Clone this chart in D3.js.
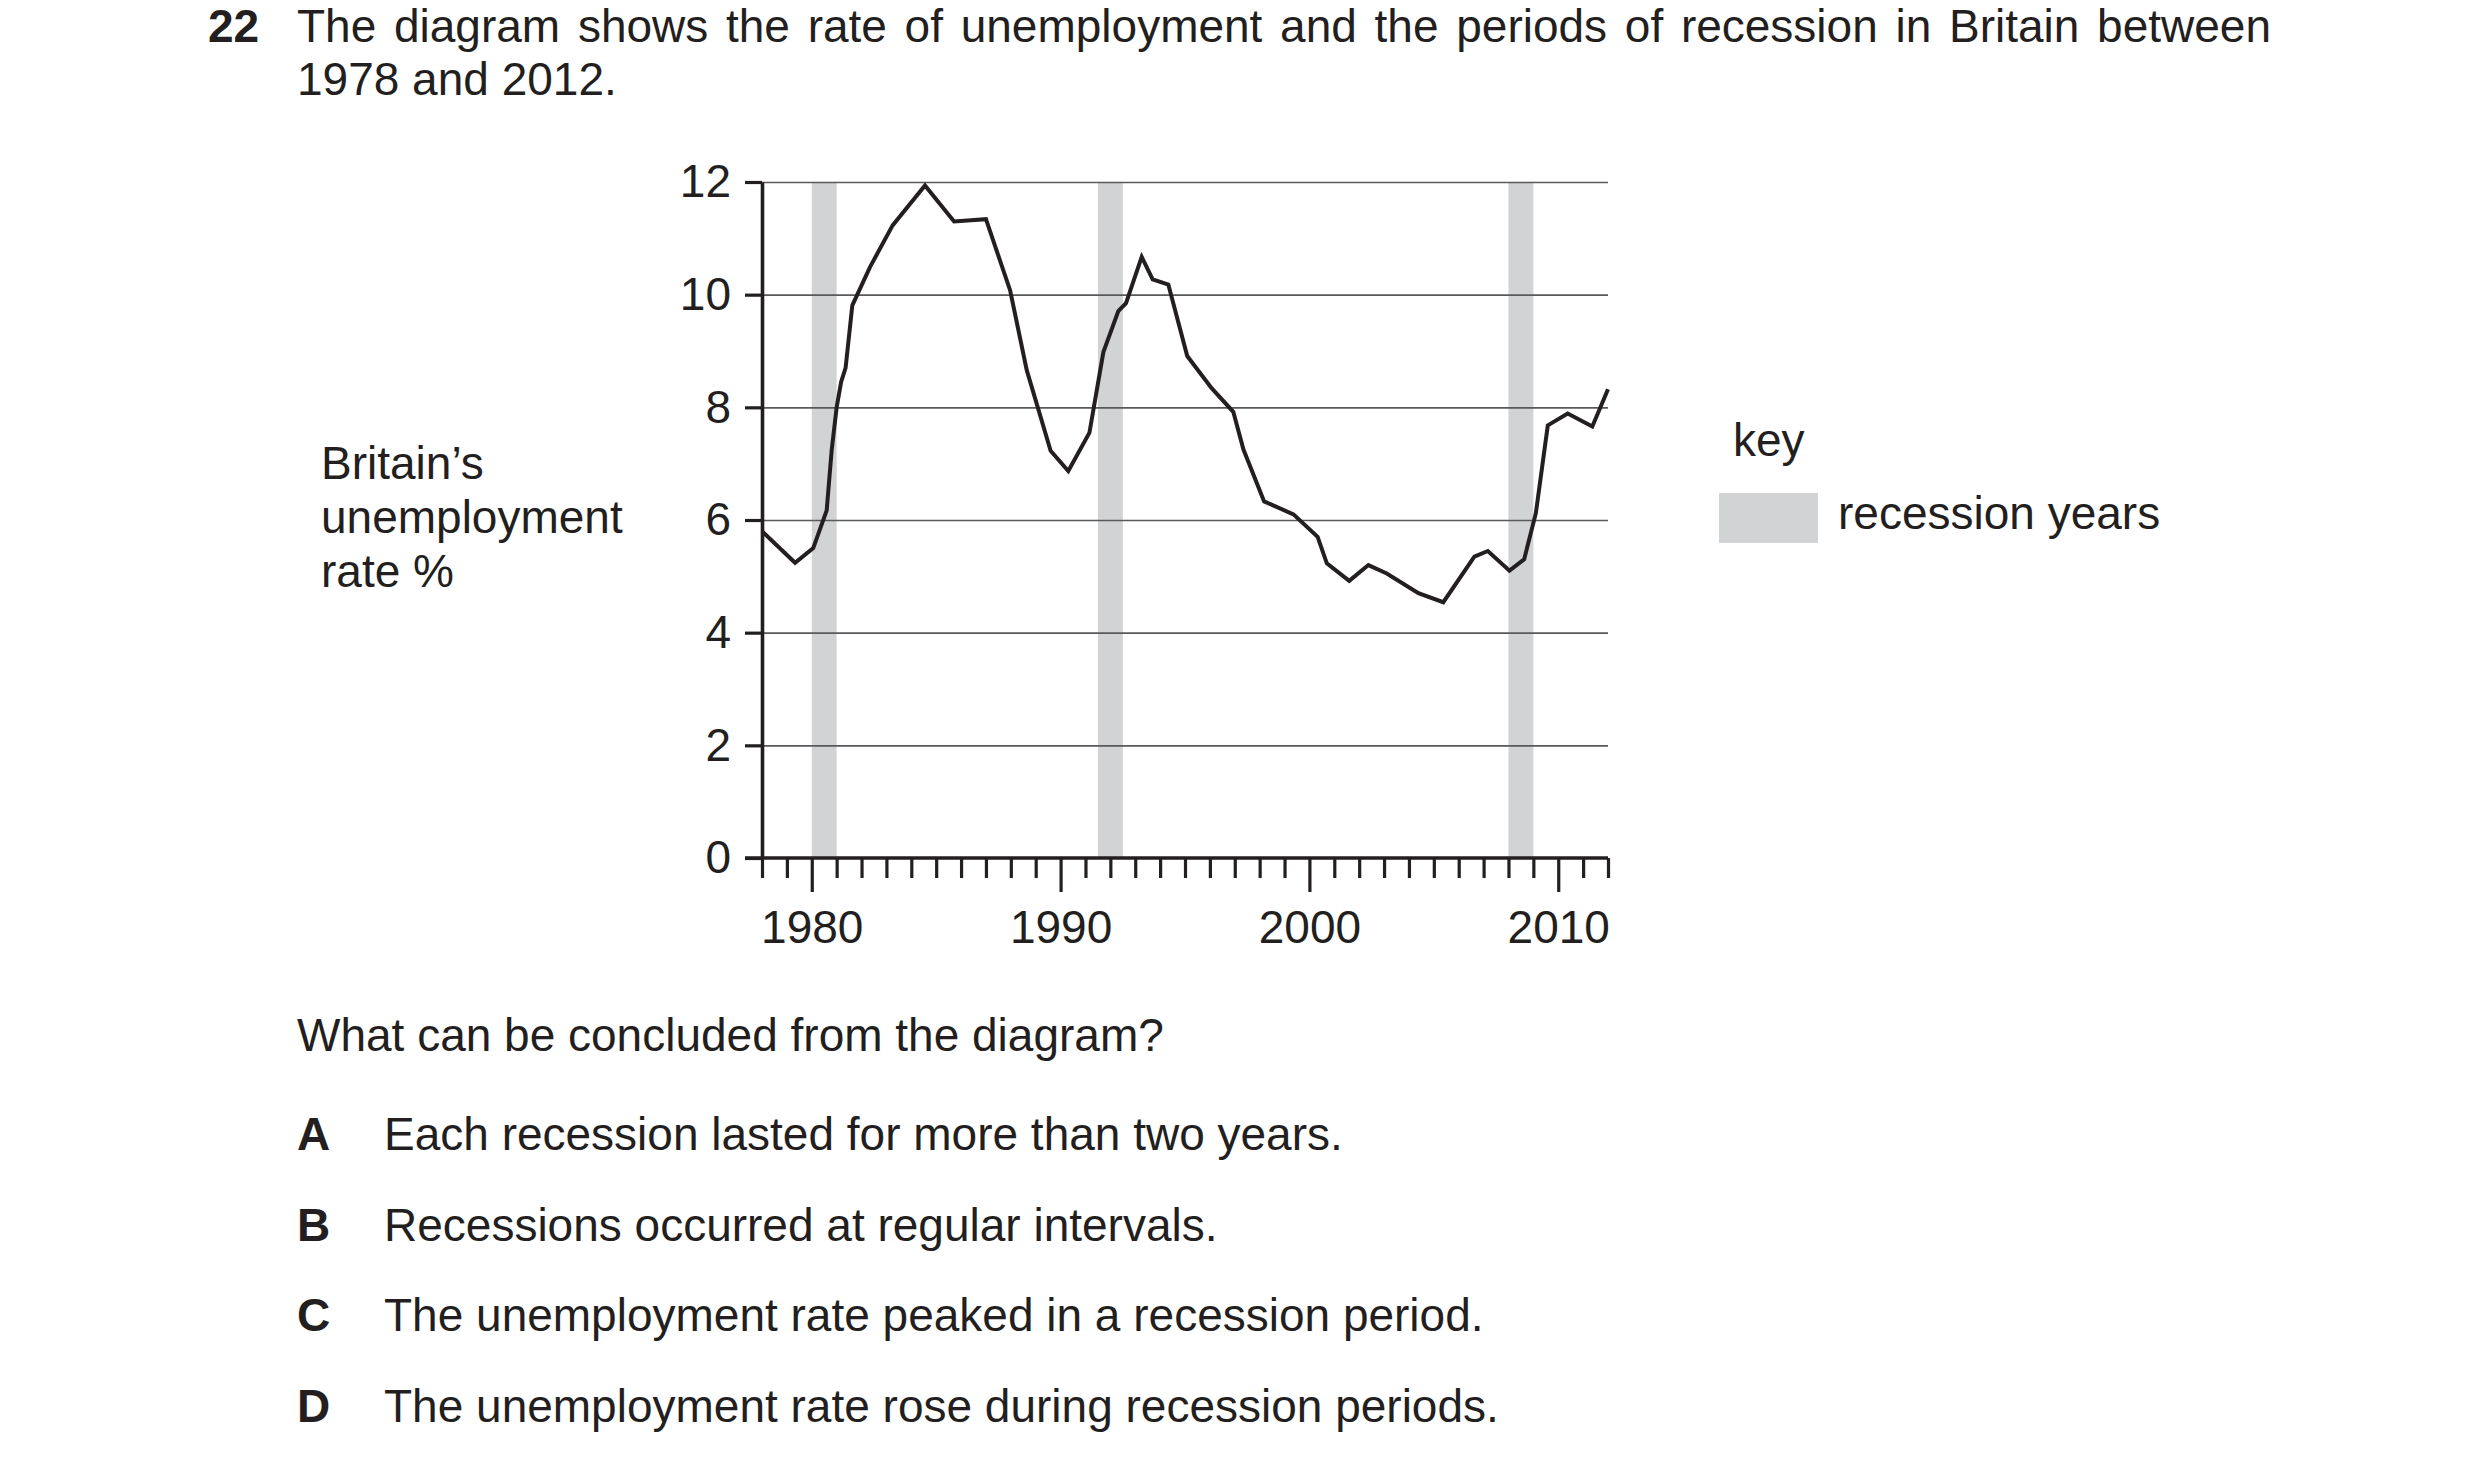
<!DOCTYPE html>
<html>
<head>
<meta charset="utf-8">
<script src="https://cdn.jsdelivr.net/npm/d3@7"></script>
<style>
  body { margin: 0; background: #fff; }
  text { font-family: "Liberation Sans", Arial, sans-serif; fill: #231f20; }
</style>
</head>
<body>
<div id="chart"></div>
<script>
// unemployment line
const years = [1978.0, 1979.33, 1980.06, 1980.6, 1980.8, 1981.0, 1981.18, 1981.36, 1981.63, 1982.34, 1983.25, 1984.55, 1985.72, 1987.0, 1987.97, 1988.64, 1989.6, 1990.31, 1991.16, 1991.72, 1992.32, 1992.63, 1993.26, 1993.7, 1994.33, 1995.09, 1996.07, 1996.94, 1997.35, 1998.18, 1999.36, 2000.33, 2000.7, 2001.6, 2002.37, 2003.11, 2004.38, 2005.38, 2006.63, 2007.17, 2008.04, 2008.63, 2009.1, 2009.58, 2010.38, 2011.37, 2012.0];
const rates = [5.8, 5.24, 5.5, 6.17, 7.24, 8.0, 8.45, 8.7, 9.81, 10.49, 11.23, 11.94, 11.3, 11.34, 10.08, 8.66, 7.23, 6.87, 7.55, 8.98, 9.71, 9.85, 10.67, 10.27, 10.18, 8.91, 8.34, 7.92, 7.25, 6.33, 6.1, 5.7, 5.23, 4.92, 5.2, 5.05, 4.7, 4.54, 5.35, 5.45, 5.1, 5.3, 6.12, 7.68, 7.89, 7.66, 8.32];

// recession periods
const recessionStart = [1980, 1991.5, 2008];
const recessionEnd = [1981, 1992.5, 2009];

const yTicks = [0, 2, 4, 6, 8, 10, 12];
const xLabelYears = [1980, 1990, 2000, 2010];

const titleLine1 = "The diagram shows the rate of unemployment and the periods of recession in Britain between";
const titleLine2 = "1978 and 2012.";
const yLabel = ["Britain\u2019s", "unemployment", "rate %"];
const question = "What can be concluded from the diagram?";
const optionLetters = ["A", "B", "C", "D"];
const optionTexts = [
  "Each recession lasted for more than two years.",
  "Recessions occurred at regular intervals.",
  "The unemployment rate peaked in a recession period.",
  "The unemployment rate rose during recession periods."
];

const width = 2480, height = 1470;
const ink = "#231f20", grey = "#d1d3d4";
const fs = "46px";

const svg = d3.select("#chart").append("svg")
  .attr("width", width)
  .attr("height", height);

svg.append("rect").attr("width", width).attr("height", height).attr("fill", "#fff");

const x = d3.scaleLinear().domain([1978, 2012]).range([762, 1608]);
const y = d3.scaleLinear().domain([0, 12]).range([858, 182]);

// title, justified across the first line
svg.append("text").attr("x", 208).attr("y", 42)
  .style("font-size", fs).style("font-weight", "bold").text("22");

const words = titleLine1.split(" ");
const wg = svg.append("g");
const wt = wg.selectAll("text").data(words).enter().append("text")
  .attr("y", 42).style("font-size", fs).text(d => d);
const widths = [];
wt.each(function () { widths.push(this.getComputedTextLength()); });
const left = 297, right = 2271;
const gap = (right - left - d3.sum(widths)) / (words.length - 1);
let cx = left;
wt.attr("x", function (d, i) { const v = cx; cx += widths[i] + gap; return v; });

svg.append("text").attr("x", 297).attr("y", 95)
  .style("font-size", fs).text(titleLine2);

// recession bands
svg.append("g").selectAll("rect")
  .data(recessionStart)
  .enter().append("rect")
  .attr("x", d => x(d))
  .attr("width", (d, i) => x(recessionEnd[i]) - x(d))
  .attr("y", y(12))
  .attr("height", y(0) - y(12))
  .attr("fill", grey);

// gridlines
const grid = svg.append("g")
  .attr("transform", "translate(" + x(1978) + ",0)")
  .call(d3.axisLeft(y).tickValues(yTicks.slice(1)).tickSize(-(x(2012) - x(1978))).tickFormat(""));
grid.select(".domain").remove();
grid.selectAll("line").attr("stroke", "#58595b").attr("stroke-width", 1.6);

// y axis
const yAxis = svg.append("g")
  .attr("transform", "translate(" + x(1978) + ",0)")
  .call(d3.axisLeft(y).tickValues(yTicks).tickSize(17).tickSizeOuter(0).tickPadding(14));
yAxis.select(".domain").attr("stroke", ink).attr("stroke-width", 3.6);
yAxis.selectAll("line").attr("stroke", ink).attr("stroke-width", 3.2);
yAxis.selectAll("text").style("font-size", fs).attr("fill", ink)
  .style("font-family", "'Liberation Sans', Arial, sans-serif");

// x axis, yearly ticks with longer decade ticks
const xAxis = svg.append("g")
  .attr("transform", "translate(0," + y(0) + ")")
  .call(d3.axisBottom(x).tickValues(d3.range(1978, 2013)).tickSize(20).tickSizeOuter(0).tickPadding(32)
    .tickFormat(d => xLabelYears.includes(d) ? d : ""));
xAxis.select(".domain").attr("stroke", ink).attr("stroke-width", 3.6)
  .attr("d", "M" + (x(1978) - 17) + ",0H" + x(2012));
xAxis.selectAll("line").attr("stroke", ink).attr("stroke-width", 3.2)
  .attr("y2", d => xLabelYears.includes(d) ? 34 : 20);
xAxis.selectAll("text").style("font-size", fs).attr("fill", ink)
  .style("font-family", "'Liberation Sans', Arial, sans-serif");

// unemployment line
const line = d3.line().x(d => x(d[0])).y(d => y(d[1]));
svg.append("path")
  .datum(d3.zip(years, rates))
  .attr("d", line)
  .attr("fill", "none")
  .attr("stroke", ink)
  .attr("stroke-width", 4)
  .attr("stroke-linejoin", "miter");

// y label
svg.append("g").selectAll("text")
  .data(yLabel)
  .enter().append("text")
  .attr("x", 321)
  .attr("y", (d, i) => 479 + i * 54)
  .style("font-size", fs)
  .text(d => d);

// key
svg.append("text").attr("x", 1733).attr("y", 456).style("font-size", fs).text("key");
svg.append("rect").attr("x", 1719).attr("y", 493).attr("width", 99).attr("height", 50).attr("fill", grey);
svg.append("text").attr("x", 1838).attr("y", 529).style("font-size", fs).text("recession years");

// question and options
svg.append("text").attr("x", 297).attr("y", 1051).style("font-size", fs).text(question);
const opts = svg.append("g").selectAll("g")
  .data(optionLetters)
  .enter().append("g")
  .attr("transform", (d, i) => "translate(0," + (1150 + i * 90.5) + ")");
opts.append("text").attr("x", 297).style("font-size", fs).style("font-weight", "bold").text(d => d);
opts.append("text").attr("x", 384).style("font-size", fs).text((d, i) => optionTexts[i]);
</script>
</body>
</html>
